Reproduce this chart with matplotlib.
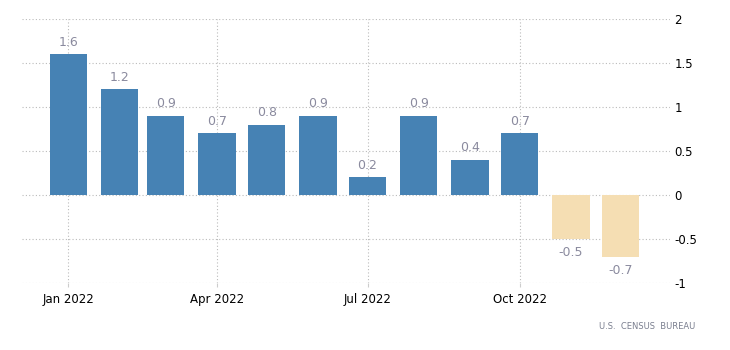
import numpy as np
import pandas as pd
import matplotlib
matplotlib.use('Agg')
import matplotlib.pyplot as plt
import matplotlib.dates as mdates

months = pd.date_range('2022-01-01', periods=12, freq='MS')
values = [1.6, 1.2, 0.9, 0.7, 0.8, 0.9, 0.2, 0.9, 0.4, 0.7, -0.5, -0.7]
yticks = [-1, -0.5, 0, 0.5, 1, 1.5, 2]
ytick_labels = ['-1', '-0.5', '0', '0.5', '1', '1.5', '2']
xticks = pd.to_datetime(['2022-01-01', '2022-04-01', '2022-07-01', '2022-10-01'])
xtick_labels = ['Jan 2022', 'Apr 2022', 'Jul 2022', 'Oct 2022']

plt.rcParams['font.family'] = ['DejaVu Sans']

fig = plt.figure(figsize=(7.3, 3.5), dpi=100)
ax = fig.add_axes([0.030, 0.191, 0.888, 0.755])

colors = ['#4682b4' if v >= 0 else '#f5deb3' for v in values]
x = mdates.date2num(months)
ax.bar(x, values, width=22.5, color=colors, zorder=2)

# value labels
for xi, v in zip(x, values):
    if v >= 0:
        ax.annotate(f'{v:g}', (xi, v), xytext=(0, 4), textcoords='offset points',
                    ha='center', va='bottom', fontsize=9, color='#8a8a9e')
    else:
        ax.annotate(f'{v:g}', (xi, v), xytext=(0, -5), textcoords='offset points',
                    ha='center', va='top', fontsize=9, color='#8a8a9e')

ax.set_xlim(mdates.date2num(pd.Timestamp('2021-12-04')), mdates.date2num(pd.Timestamp('2022-12-31')))
ax.set_ylim(-1, 2)
ax.set_yticks(yticks)
ax.set_yticklabels(ytick_labels)
ax.set_xticks(mdates.date2num(xticks))
ax.set_xticklabels(xtick_labels)

ax.yaxis.tick_right()
ax.tick_params(axis='y', length=0, pad=3, labelsize=8.5, labelcolor='#000000')
ax.tick_params(axis='x', length=3, color='#cccccc', pad=4, labelsize=8.5, labelcolor='#000000')

ax.grid(True, linestyle=(0, (1, 2)), color='#bbbbbb', linewidth=0.8, zorder=0)
ax.set_axisbelow(True)
for s in ax.spines.values():
    s.set_visible(False)

fig.text(0.953, 0.068, 'U.S.  CENSUS  BUREAU', ha='right', va='center', fontsize=6, color='#7a7f8f')

plt.savefig('out.png', dpi=100)
